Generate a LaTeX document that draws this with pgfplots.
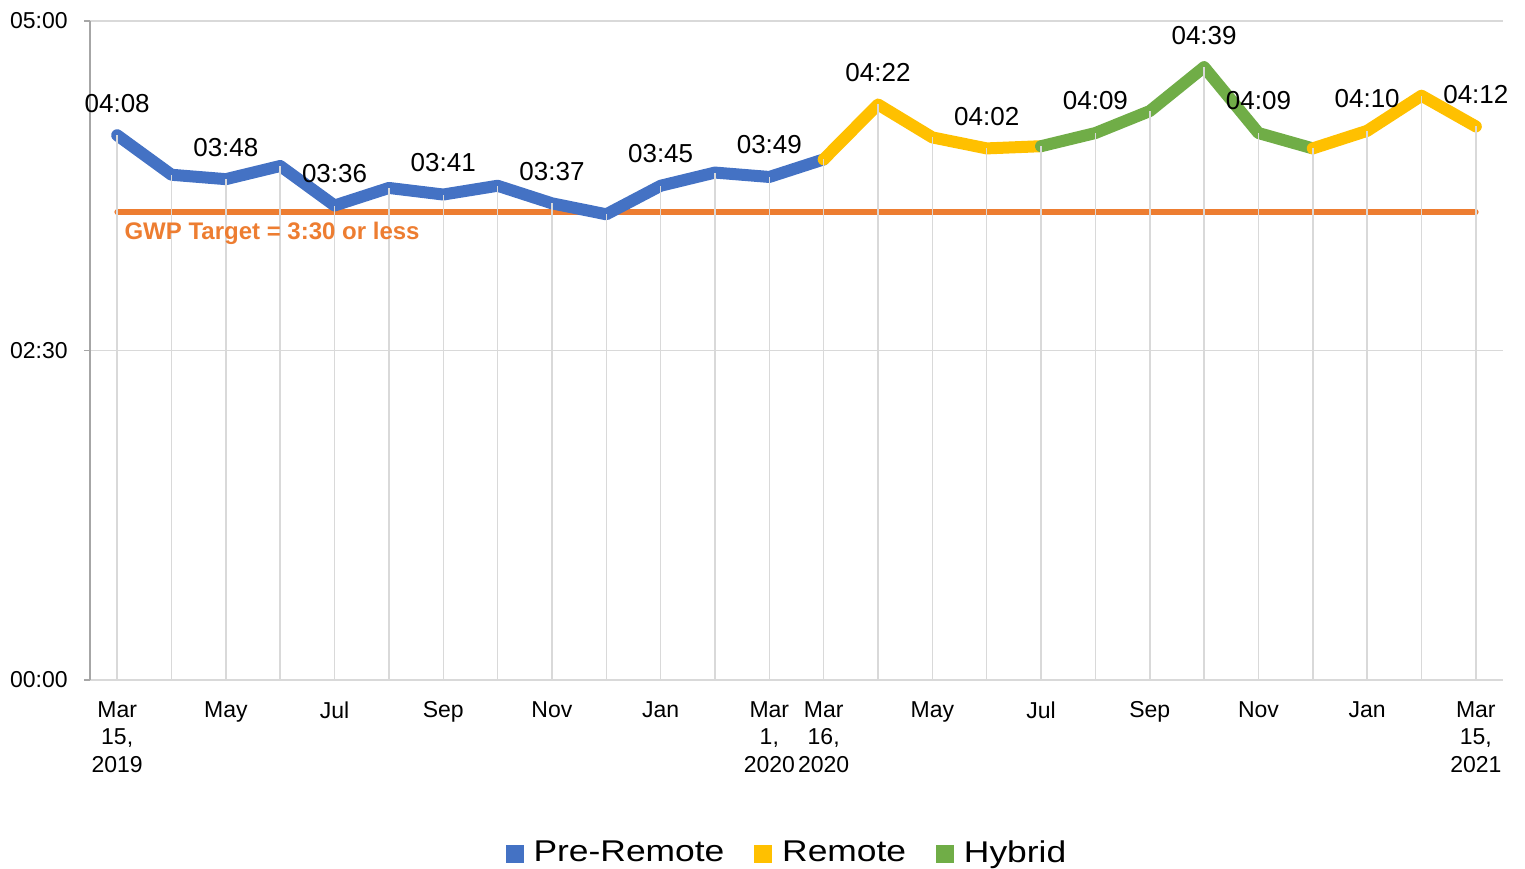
\documentclass[border=0pt]{standalone}
\usepackage{pgfplots}
\pgfplotsset{compat=1.18}
\usepackage{pgfplotstable}
\usepackage{fontspec}
\setmainfont{Liberation Sans}
\newfontfamily\legendfont[FakeStretch=1.18]{Liberation Sans}
\definecolor{cblue}{HTML}{4472C4}
\definecolor{cgold}{HTML}{FFC000}
\definecolor{cgreen}{HTML}{70AD47}
\definecolor{corange}{HTML}{ED7D31}
\definecolor{gridgray}{HTML}{D9D9D9}
\definecolor{axisgray}{HTML}{A6A6A6}

\pgfplotstableread{
x y
0 248
1 230
2 228
3 234
4 216
5 224
6 221
7 225
8 217
9 212
10 225
11 231
12 229
13 237
}\pre
\pgfplotstableread{
x y
13 237
14 262
15 247
16 242
17 243
}\remoteA
\pgfplotstableread{
x y
17 243
18 249
19 259
20 279
21 249
22 242
}\hybrid
\pgfplotstableread{
x y
22 242
23 250
24 266
25 252
}\remoteB
\pgfplotstableread{
x y lab
0 248 04:08
2 228 03:48
4 216 03:36
6 221 03:41
8 217 03:37
10 225 03:45
12 229 03:49
14 262 04:22
16 242 04:02
18 249 04:09
20 279 04:39
21 249 04:09
23 250 04:10
25 252 04:12
}\labs

\begin{document}
\begin{tikzpicture}
\path[use as bounding box] (0,0) rectangle (762.5pt,434pt);
\begin{axis}[
  at={(45pt,94pt)}, anchor=south west,
  scale only axis, width=706.5pt, height=329.5pt,
  xmin=-0.5, xmax=25.5, ymin=0, ymax=300,
  axis lines*=left,
  x axis line style={gridgray, line width=0.75pt},
  y axis line style={axisgray, line width=0.75pt},
  xtick={0,...,25},
  xticklabels={{Mar\\15,\\2019},{},May,{},Jul,{},Sep,{},Nov,{},Jan,{},{Mar\\1,\\2020},{Mar\\16,\\2020},{},May,{},Jul,{},Sep,{},Nov,{},Jan,{},{Mar\\15,\\2021}},
  ytick={0,150,300},
  yticklabels={00:00,02:30,05:00},
  ymajorgrids,
  grid style={gridgray, line width=0.75pt},
  tick align=outside,
  xtick style={draw=none},
  ytick style={axisgray, line width=0.75pt},
  major tick length=3pt,
  xticklabel style={font=\fontsize{11.5}{13.75}\selectfont, align=center, anchor=north, inner sep=0pt, yshift=-7.5pt},
  yticklabel style={font=\fontsize{11.5}{13.75}\selectfont, anchor=east, inner sep=0pt, xshift=-8pt},
  legend style={at={(0.494,-0.2625)}, anchor=center, draw=none, fill=none,
    legend columns=3, font=\legendfont\fontsize{15}{16}\selectfont,
    /tikz/every odd column/.append style={column sep=3pt},
    /tikz/every even column/.append style={column sep=13pt}},
  legend cell align=left,
]
\addlegendimage{legend image code/.code={\fill[cblue] (0pt,-4.5pt) rectangle (8.5pt,4pt);}}
\addlegendentry{Pre-Remote}
\addlegendimage{legend image code/.code={\fill[cgold] (0pt,-4.5pt) rectangle (8.5pt,4pt);}}
\addlegendentry{Remote}
\addlegendimage{legend image code/.code={\fill[cgreen] (0pt,-4.5pt) rectangle (8.5pt,4pt);}}
\addlegendentry{Hybrid}

\addplot[corange, line width=2.8pt, line cap=round, forget plot] coordinates {(0,213) (25,213)};
\addplot[cblue, line width=6pt, line cap=round, line join=round, mark=none, forget plot] table[x=x,y=y]{\pre};
\addplot[cgold, line width=6pt, line cap=round, line join=round, mark=none, forget plot] table[x=x,y=y]{\remoteA};
\addplot[cgreen, line width=6pt, line cap=round, line join=round, mark=none, forget plot] table[x=x,y=y]{\hybrid};
\addplot[cgold, line width=6pt, line cap=round, line join=round, mark=none, forget plot] table[x=x,y=y]{\remoteB};
% drop lines
\addplot[ycomb, gridgray, line width=0.75pt, mark=none, forget plot] table[x=x,y=y]{\pre};
\addplot[ycomb, gridgray, line width=0.75pt, mark=none, forget plot] table[x=x,y=y]{\remoteA};
\addplot[ycomb, gridgray, line width=0.75pt, mark=none, forget plot] table[x=x,y=y]{\hybrid};
\addplot[ycomb, gridgray, line width=0.75pt, mark=none, forget plot] table[x=x,y=y]{\remoteB};
\addplot[draw=none, mark=none, forget plot, nodes near coords, point meta=explicit symbolic,
  nodes near coords style={font=\fontsize{13}{15}\selectfont, anchor=center, yshift=16pt, inner sep=0pt}]
  table[x=x,y=y,meta=lab]{\labs};
\node[anchor=west, inner sep=0pt, xshift=3.5pt, yshift=-10.5pt, text=corange, font=\bfseries\fontsize{12}{14}\selectfont] at (axis cs:0,213) {GWP Target = 3:30 or less};
\end{axis}
\end{tikzpicture}
\end{document}
